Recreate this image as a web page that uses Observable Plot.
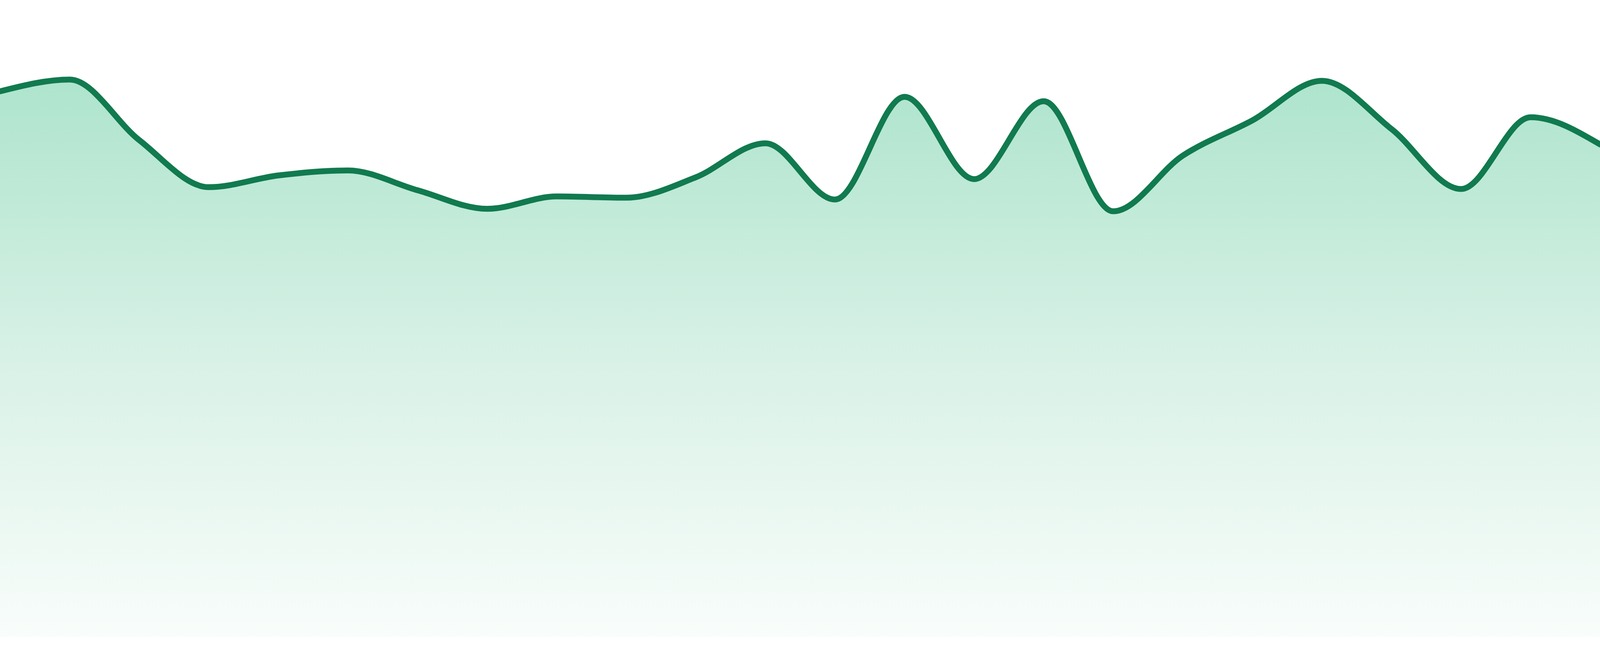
<!DOCTYPE html>
<html>
<head>
<meta charset="utf-8">
<script src="https://cdn.jsdelivr.net/npm/d3@7"></script>
<script src="https://cdn.jsdelivr.net/npm/@observablehq/plot@0.6"></script>
<style>
  html, body { margin: 0; padding: 0; background: #ffffff; overflow: hidden; }
  #chart svg { display: block; }
</style>
</head>
<body>
<div id="chart"></div>
<script>
// Point index along the x axis (24 evenly spaced samples)
const indices = d3.range(24);
// Series values
const values = [
  88.3, 90.2, 80.4, 72.8, 74.7, 75.5, 72.3, 69.3,
  71.3, 71.1, 74.4, 79.9, 70.8, 87.4, 74.1, 86.7,
  68.9, 77.9, 83.6, 90.0, 82.2, 72.5, 84.1, 79.7
];
const yDomain = [0, 100];

const data = indices.map((i) => ({ x: i, y: values[i] }));

const gradientMark = () => {
  const defs = d3.create("svg:defs");
  const g = defs.append("linearGradient")
    .attr("id", "areaFill")
    .attr("x1", 0).attr("y1", 0).attr("x2", 0).attr("y2", 1);
  g.append("stop").attr("offset", "0%").attr("stop-color", "#aee4cd");
  g.append("stop").attr("offset", "50%").attr("stop-color", "#d8f1e6");
  g.append("stop").attr("offset", "100%").attr("stop-color", "#f9fdfb");
  return defs.node();
};

// Fit the chart to the actual viewport width (design width 4800)
const W = window.innerWidth || 4800;

const chart = Plot.plot({
  width: W,
  height: 1680,
  marginLeft: 0,
  marginRight: 0,
  marginTop: 48,
  marginBottom: 48,
  x: { domain: [0, indices.length - 1], axis: null },
  y: { domain: yDomain, axis: null },
  marks: [
    gradientMark,
    Plot.areaY(data, { x: "x", y: "y", fill: "url(#areaFill)", curve: "monotone-x" }),
    Plot.lineY(data, { x: "x", y: "y", stroke: "#117a4f", strokeWidth: 15, curve: "monotone-x" })
  ]
});
document.getElementById("chart").append(chart);
</script>
</body>
</html>
